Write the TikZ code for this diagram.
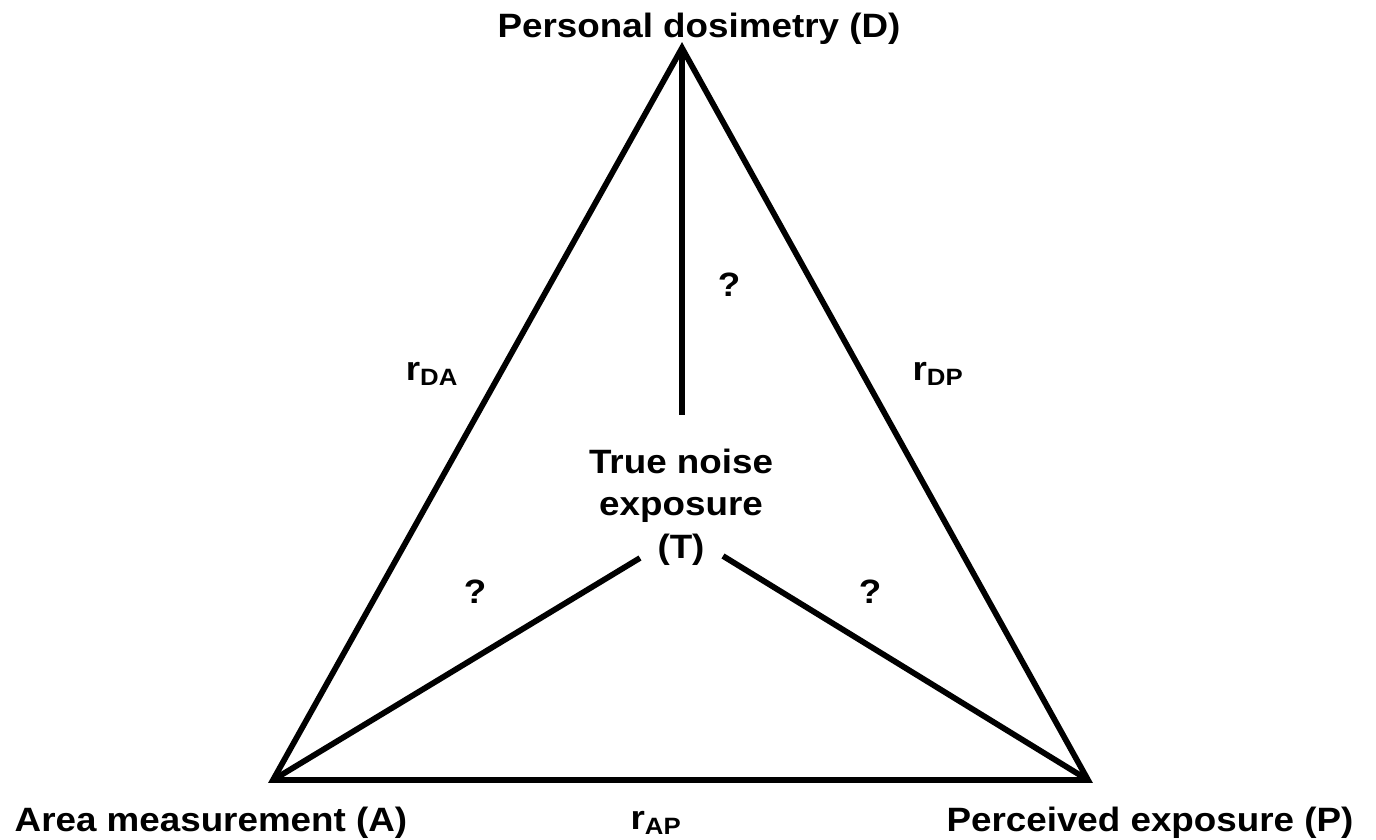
\documentclass[tikz,border=0pt]{standalone}
\usepackage{fontspec}
\setmainfont{Liberation Sans}[FakeStretch=1.09]
\usepackage{tikz}
\usetikzlibrary{positioning}

\begin{document}
\begin{tikzpicture}[x=0.025cm,y=-0.025cm,line width=4.1pt,
  lbl/.style={font=\bfseries\fontsize{24}{30.2}\selectfont,inner sep=0pt,anchor=base}]
\useasboundingbox (0,0) rectangle (1376,840);
% corners of the triangle and the loose ends round T
\coordinate (D) at (682,48);
\coordinate (A) at (273,780);
\coordinate (P) at (1088,780);
\coordinate (Ttop) at (682,415);
\coordinate (Tleft) at (640,558);
\coordinate (Tright) at (723,556);
\node[lbl] (Dlab) at (699,38) {Personal dosimetry (D)};
\node[lbl] (Alab) at (211,831) {Area measurement (A)};
\node[lbl] (Plab) at (1150,831) {Perceived exposure (P)};
\node[lbl,align=center,anchor=center] (T) at (681,507) {True noise\\exposure\\(T)};
\node[lbl] (rDA) at (432,380) {r\textsubscript{DA}};
\node[lbl] (rDP) at (938,380) {r\textsubscript{DP}};
\node[lbl] (rAP) at (656,829) {r\textsubscript{AP}};
\node[lbl] (qD) at (729,296) {?};
\node[lbl] (qA) at (475,603) {?};
\node[lbl] (qP) at (870,603) {?};
\draw (D) -- (A) -- (P) -- cycle;
\draw (D) -- (Ttop);
\draw (A) -- (Tleft);
\draw (P) -- (Tright);
\end{tikzpicture}
\end{document}
